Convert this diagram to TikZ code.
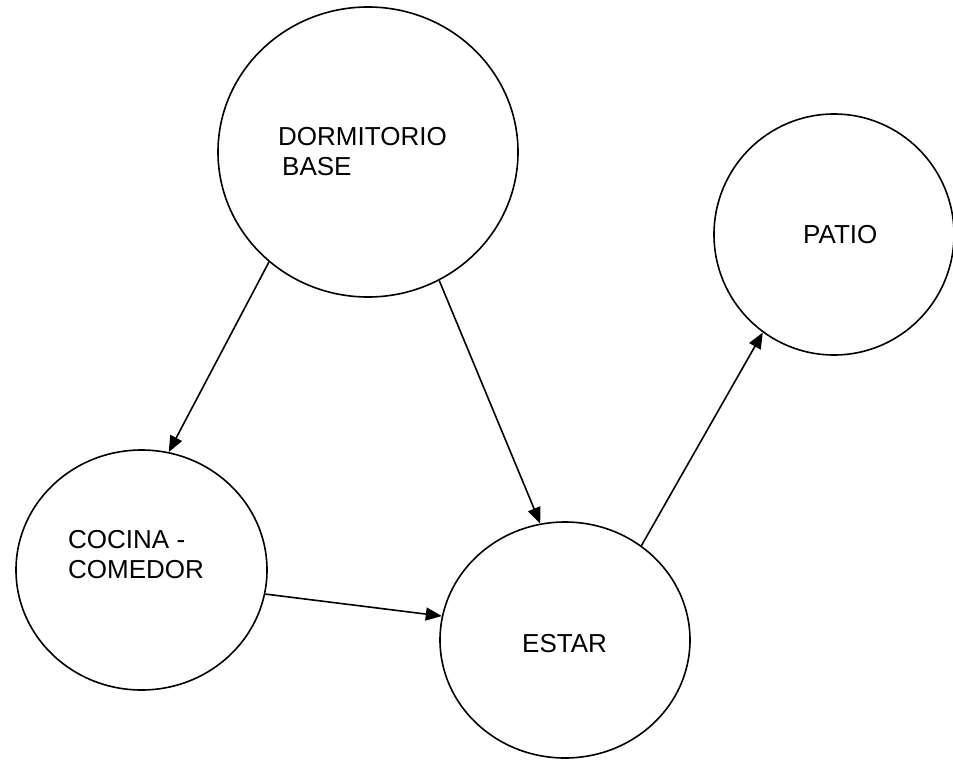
\documentclass[tikz,border=0pt]{standalone}
\usepackage{fontspec}
\setmainfont{Liberation Sans}
\usetikzlibrary{shapes.geometric,arrows.meta}
\begin{document}
\begin{tikzpicture}[x=1pt,y=-1pt,
  room/.style={ellipse,draw,line width=1.6pt,inner sep=0pt},
  lbl/.style={anchor=base west,inner sep=0pt,font=\fontsize{26}{30}\selectfont},
  arr/.style={line width=1.6pt,-{Triangle[length=16pt,width=13pt]}}]
\useasboundingbox (0,0) rectangle (953,760);
\node[room,minimum width=300pt,minimum height=290pt] (dorm) at (368,152) {};
\node[room,minimum width=240pt,minimum height=241pt] (patio) at (834,234.5) {};
\node[room,minimum width=251pt,minimum height=240pt] (cocina) at (141.5,570) {};
\node[room,minimum width=250pt,minimum height=236pt] (estar) at (565,640) {};
\node[lbl] (dormA) at (278,145) {DORMITORIO};
\node[lbl] (dormB) at (282,175) {BASE};
\node[lbl] (patioA) at (803,243) {PATIO};
\node[lbl] (cocinaA) at (68,548) {COCINA -};
\node[lbl] (cocinaB) at (68,578) {COMEDOR};
\node[lbl] (estarA) at (522,652) {ESTAR};
\draw[arr] (dorm.228) -- (cocina.77);
\draw[arr] (dorm.299) -- (estar.102);
\draw[arr] (cocina.349.5) -- (estar.169.5);
\draw[arr] (estar.51.7) -- (patio.234.3);
\end{tikzpicture}
\end{document}
